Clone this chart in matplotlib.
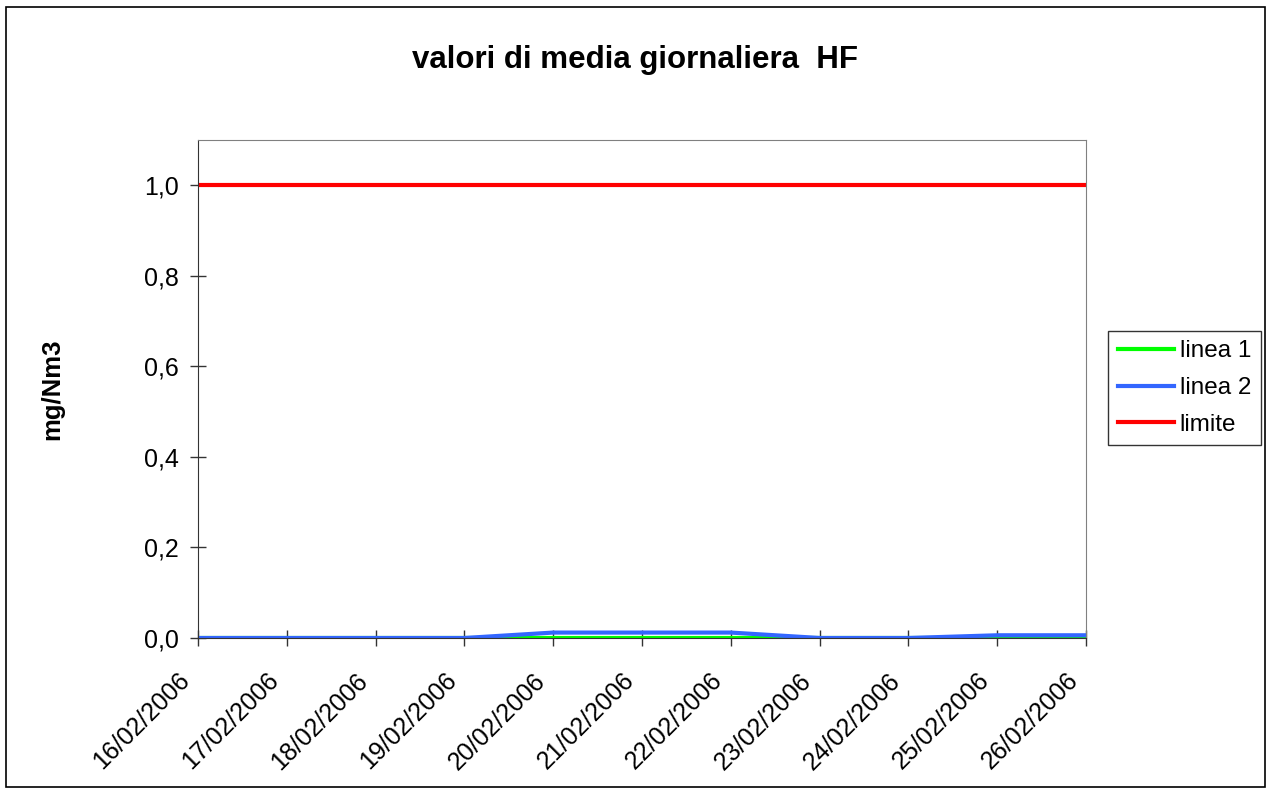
import numpy as np
import matplotlib
matplotlib.use("Agg")
from matplotlib import pyplot as plt
from matplotlib.patches import Rectangle
from matplotlib.transforms import ScaledTranslation

dates = ["16/02/2006", "17/02/2006", "18/02/2006", "19/02/2006", "20/02/2006",
         "21/02/2006", "22/02/2006", "23/02/2006", "24/02/2006", "25/02/2006",
         "26/02/2006"]
linea1 = [0, 0, 0, 0, 0, 0, 0, 0, 0, 0, 0]
linea2 = [0, 0, 0, 0, 0.012, 0.012, 0.012, 0, 0, 0.006, 0.006]
limite = [1.0] * 11
yticks = [0.0, 0.2, 0.4, 0.6, 0.8, 1.0]

plt.rcParams['font.family'] = ['Liberation Sans', 'DejaVu Sans']

fig = plt.figure(figsize=(12.71, 7.93), dpi=100)
fig.patches.append(Rectangle((6 / 1271, 6 / 793), 1259 / 1271, 780 / 793,
                             transform=fig.transFigure, fill=False,
                             edgecolor='black', linewidth=1.2))

ax = fig.add_axes([198 / 1271, 1 - 638 / 793, 888 / 1271, 498 / 793])
x = np.arange(len(dates))
ax.plot(x, linea1, color='#00ff00', linewidth=3, label='linea 1')
ax.plot(x, linea2, color='#3366ff', linewidth=3, label='linea 2')
ax.plot(x, limite, color='#ff0000', linewidth=3, label='limite')

ax.set_xlim(0, len(dates) - 1)
ax.set_ylim(0, 1.1)
ax.set_xticks(x)
ax.set_xticklabels(dates, rotation=45, ha='right', va='center',
                   rotation_mode='anchor', fontsize=18)
ax.set_yticks(yticks)
ax.set_yticklabels([f"{v:.1f}".replace('.', ',') for v in yticks], fontsize=18)
ax.tick_params(direction='inout', length=12, color='#333333', width=1)
ax.tick_params(axis='x', pad=22)
ax.tick_params(axis='y', pad=8)
# shift the rotated dates a bit to the left, like the original
shift = ScaledTranslation(-0.12, 0, fig.dpi_scale_trans)
for lbl in ax.get_xticklabels():
    lbl.set_transform(lbl.get_transform() + shift)
for sp in ax.spines.values():
    sp.set_color('#808080')
ax.spines['left'].set_color('#333333')
ax.spines['bottom'].set_color('#333333')

fig.text(52 / 1271, 1 - 389 / 793, "mg/Nm3", rotation=90, ha='center', va='center',
         fontsize=18.5, fontweight='bold')
fig.text(0.5, 1 - 60 / 793, "valori di media giornaliera  HF", ha='center', va='center',
         fontsize=22.5, fontweight='bold')

leg = ax.legend(loc='center left', bbox_to_anchor=(1108 / 1271, 1 - 388 / 793),
                bbox_transform=fig.transFigure, fontsize=17.5, frameon=True, fancybox=False,
                handlelength=2.3, handletextpad=0.25, borderpad=0.4, labelspacing=0.6,
                borderaxespad=0)
leg.get_frame().set_edgecolor('black')
leg.get_frame().set_linewidth(1)

plt.savefig('out.png', dpi=100)
